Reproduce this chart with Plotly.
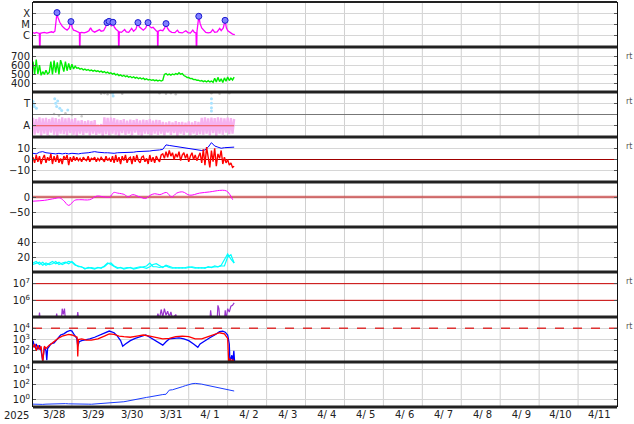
import numpy as np
import plotly.graph_objects as go
from plotly.subplots import make_subplots

# ---------------- data (time in hours from 2025-03-27 00:00) ----------------
day_labels = ["3/28", "3/29", "3/30", "3/31", "4/ 1", "4/ 2", "4/ 3", "4/ 4",
              "4/ 5", "4/ 6", "4/ 7", "4/ 8", "4/ 9", "4/10", "4/11"]

# X-ray flux (log10 W/m2)
xray_t = [0, 1, 2, 3, 3.9, 4.2, 4.5, 5.5, 7, 8.5, 10, 11.5, 12.5, 13.5, 14.8, 15.3, 16.5, 18, 19.5, 21,
          22.3, 23.4, 24.2, 25, 26, 27, 28, 28.6, 28.8, 29.1, 30, 31.5, 33, 34.5, 35.5, 36.5, 38, 39.5,
          41, 42, 43.5, 44.8, 45.6, 46.2, 46.9, 47.6, 48.4, 49.3, 50, 51, 52, 52.6, 52.9, 53.2, 54.5,
          56.5, 57.5, 59, 60.8, 62, 63.5, 64.7, 65.5, 66.5, 68, 69.5, 70.9, 71.8, 73, 74, 75, 76.2, 76.7,
          76.9, 77.2, 78.5, 80, 81.2, 82, 82.8, 84, 85.5, 87.5, 89, 90, 92, 94.2, 95.5, 97, 98.5, 99.5,
          100.5, 100.8, 101.1, 102.2, 103, 104, 105, 106.5, 108, 109.5, 110.8, 112, 113.5, 115.1, 116,
          117.3, 118.4, 119.2, 120.1, 121.5, 123, 124.4]
xray_log = [-5.72, -5.78, -5.70, -5.75, -5.80, -8, -5.78, -5.74, -5.70, -5.76, -5.72, -5.65, -5.72, -5.6,
            -3.94, -4.35, -4.8, -5.15, -5.35, -5.5, -5.3, -4.74, -5.3, -5.5, -5.55, -5.62, -5.7, -5.72,
            -8, -5.74, -5.7, -5.75, -5.68, -5.55, -5.3, -5.55, -5.68, -5.6, -5.45, -5.6, -5.55, -5.2,
            -4.83, -5.1, -4.72, -5.0, -5.15, -4.80, -5.2, -5.4, -5.55, -5.6, -8, -5.65, -5.7, -5.45,
            -5.65, -5.7, -5.35, -5.6, -5.4, -4.83, -5.2, -5.35, -5.5, -5.3, -4.83, -5.15, -5.3, -5.25,
            -5.45, -5.6, -5.62, -8, -5.6, -5.5, -5.55, -5.3, -4.92, -5.3, -5.55, -5.7, -5.72, -5.5, -5.7,
            -5.75, -5.55, -5.72, -5.76, -5.5, -5.7, -5.75, -8, -5.6, -4.27, -4.9, -5.3, -5.5, -5.7,
            -5.75, -5.7, -5.45, -5.7, -5.65, -5.35, -5.55, -5.3, -4.63, -5.3, -5.55, -5.72, -5.85, -5.9]
flare_t = [14.8, 23.4, 45.6, 46.9, 49.3, 64.7, 70.9, 82.0, 102.2, 118.4]
flare_log = [-3.94, -4.74, -4.83, -4.72, -4.80, -4.83, -4.83, -4.92, -4.27, -4.63]

# Solar wind speed (km/s), hourly
speed = [640, 500, 660, 505, 600, 490, 530, 500, 545, 505, 520, 640, 500, 650, 520, 630, 500, 655,
         600, 530, 640, 540, 620, 550, 610, 560, 590, 568, 572, 558, 565, 550, 558, 545, 553, 540,
         548, 536, 545, 533, 540, 528, 536, 522, 531, 516, 525, 510, 518, 502, 511, 495, 503, 487,
         495, 480, 490, 475, 484, 470, 478, 464, 474, 460, 469, 454, 464, 450, 459, 444, 453, 440,
         446, 436, 442, 432, 439, 430, 437, 428, 436, 500, 510, 494, 503, 492, 505, 496, 510, 500,
         518, 502, 510, 488, 480, 466, 466, 454, 455, 444, 446, 436, 438, 428, 434, 422, 430, 418,
         432, 418, 428, 414, 458, 418, 468, 422, 452, 412, 462, 426, 472, 434, 460, 440, 470]

# Geomagnetic activity band (A level = 1), hourly
activity = [1.7, 0.2, 1.6, 0.35, 1.75, 0.1, 1.65, 0.3, 1.7, 0.15, 1.6, 0.4, 1.72, 0.2, 1.68, 0.1,
            1.6, 0.3, 1.75, 0.25, 1.65, 0.15, 1.7, 0.35, 1.6, 0.2, 1.68, 0.1,
            1.45, 0.3, 1.5, 0.2, 1.4, 0.35, 1.48, 0.15, 1.42, 0.3, 1.5,
            0.2, 1.1, 0.3, 1.15,
            0.1, 1.75, 0.25, 1.7, 0.15, 1.72, 0.3, 1.68,
            0.2, 1.55, 0.1, 1.5, 0.35, 1.58, 0.2, 1.45, 0.3, 1.55, 0.15, 1.5, 0.4, 1.6, 0.2, 1.48,
            0.1, 1.55, 0.3, 1.5, 0.25, 1.58, 0.15, 1.45, 0.3, 1.52, 0.2, 1.5,
            0.3, 1.35, 0.15, 1.3, 0.4, 1.38, 0.2, 1.3, 0.35, 1.4, 0.1, 1.32, 0.3, 1.35, 0.2, 1.28,
            0.4, 1.38, 0.15, 1.3, 0.3, 1.4, 0.2, 1.35, 0.25,
            1.7, 0.2, 1.75, 0.3, 1.65, 0.15, 1.72, 0.35, 1.68, 0.1, 1.75, 0.3, 1.7, 0.2, 1.65, 0.4,
            1.72, 0.25, 1.68, 0.3, 1.6]
activity_ref = 1.0
tpts_t = [0, 0.4, 0.8, 2.1, 13.4, 14.0, 14.6, 15.2, 16.5, 17.7, 21.4, 49.1, 49.4, 110, 110, 110, 110]
tpts_v = [3.15, 2.9, 2.7, 2.55, 3.4, 3.0, 2.7, 3.2, 2.55, 2.35, 2.4, 3.9, 3.65, 3.4, 3.0, 2.6, 2.3]
gray_t = [10, 13, 16, 20, 24, 30, 42, 44, 46, 48, 55, 60, 78, 82, 85, 88, 100, 110, 115, 118, 121]
gray_v = [0.05, 2.05, 1.9, 2.1, 1.95, 1.85, 3.85, 3.9, 3.8, 3.92, 3.85, 0.05, 3.9, 3.85, 3.9, 3.8,
          0.05, 3.9, 3.85, 0.05, 3.9]

# IMF Bt (2-hourly) and Bz (hourly), nT
bt = [5.5, 5, 6.5, 7, 6, 5.5, 5.5, 5, 5.5, 5, 5.5, 5, 5.5, 5, 5, 5.5, 5.5, 6, 6.5, 7, 6.5, 6, 6, 6,
      5.5, 5.5, 6, 6, 6, 6.5, 6.5, 6.5, 7, 7, 7, 7.5, 7.5, 8, 8, 8.5, 9, 13, 12.5, 12, 11.5, 11,
      10.5, 10, 9.5, 9, 8.5, 8.5, 8, 8.5, 11, 15, 12, 11, 10, 10.5, 10.5, 10.5, 11]
bz = [2, -3, 4, -2, 3, -4, 1, 4, -3, 2, -1, 5, -4, 3, -2, 4, -3, 1, -4, 3, 0, 4, -5, 2, -2, 3, -1,
      2, -1, 1, -2, 2, 0, -1, 3, -2, 1, 0, 2, -2, 1, -1, 2, 0, -2, 3, -1, 1, -2,
      3, -3, 4, -2, 2, -4, 3, -1, 4, -3, 1, 2, -4, 3, -2, 4, -1, -3, 2, 3, -2, 1, -4, 4, -2, 2,
      -3, 3, 0, -2, 4,
      5, 1, 7, 2, 8, 3, 6, 0, 5, 2, 7, -1, 4, 6, 1, 5, -2, 3, 6, 0, 4, -1, 3,
      6, -3, 9, -5, 11, 2, -7, 8, -2, 10, -6, 5, 1, 8, -4,
      2, -3, 0, -5, -3, -7, -6]

# Dst index (nT)
dst_t = [0, 7.2, 13.4, 16.5, 18.9, 22, 25.7, 28.8, 35, 39.3, 44.2, 47.3, 49.8, 52.2, 56.5, 58.4,
         61.5, 65.8, 69.5, 72, 75, 78.2, 82.3, 85.5, 88.6, 92.3, 96.6, 102.7, 108.9, 115.1, 118.2,
         120.1, 123.1]
dst = [-14, -11, -5, -3, -12, -28, -11, -9, -9, 3, 0, 0, 15, 13, 8, 0, 8, 0, -5, 5, 11, 8, 15, 0,
       13, 17, 6, 13, 17, 22, 22, 17, -9]

# Proton density (2-hourly), two sources
dens1 = [12, 14, 10, 13, 9, 12, 14, 11, 13, 10, 12, 14, 13, 9, 8, 6, 5, 5, 6, 5, 5, 6, 7, 11, 12,
         8, 6, 5, 5, 6, 5, 5, 6, 7, 6, 5, 7, 10, 11, 8, 6, 9, 7, 6, 5, 6, 5, 6, 7, 6, 5, 6, 5, 6, 6,
         7, 6, 7, 8, 8, 20, 23, 12]
dens2 = [10, 11, 13, 9, 12, 10, 11, 14, 10, 12, 13, 11, 14, 10, 7, 7, 4, 6, 5, 4, 6, 5, 8, 12, 10,
         7, 5, 6, 4, 5, 6, 4, 5, 6, 7, 8, 12, 7, 7, 6, 7, 8, 6, 5, 6, 5, 6, 5, 6, 7, 6, 5, 6, 5, 7,
         6, 8, 7, 9, 16, 24, 17, 12]

# Proton flux (log10)
pflux_t = [0, 3.5, 4, 4.5, 14, 14.6, 15.2, 17.5, 18, 18.7, 19.4, 20, 27, 27.6, 28.2, 76, 77, 78, 79,
           80, 81, 82, 83, 84, 85, 86, 88, 89, 109, 109.5, 110.2, 113.5, 114, 114.6, 115.2, 118,
           118.5, 119, 120, 121, 122, 123, 124]
pflux_log = [4.8, 4.8, 5.26, 4.8, 4.8, 5.2, 4.8, 4.8, 5.5, 5.15, 5.5, 4.8, 4.8, 5.3, 4.8, 4.8, 5.2,
             4.9, 5.45, 5.0, 5.5, 5.1, 5.35, 5.0, 5.3, 4.9, 5.15, 4.8, 4.8, 5.4, 4.8, 4.8, 5.7, 5.5,
             4.8, 4.8, 5.4, 4.8, 5.5, 5.3, 5.65, 5.7, 5.85]

# Electron flux (log10), two satellites
e_blue_t = [0, 1, 2, 3, 4, 5, 6, 7, 8, 8.5, 9, 10, 11, 13, 15, 17, 19, 21, 23, 24, 25.5, 27, 27.6,
            28.5, 30, 32, 35, 38, 41, 44, 47, 50, 52, 54, 55.3, 57, 60, 63, 66, 69.5, 72, 75, 78, 80,
            82, 84, 87, 90, 93, 96, 99, 101.6, 103, 106, 109, 112, 115, 117, 118.5, 120, 121, 121.4,
            122.6, 123.2, 123.8, 124.3]
e_blue = [2.9, 2.3, 2.6, 2.1, 2.5, 2.0, 1.1, 2.3, 2.0, 1.15, 2.2, 2.4, 2.6, 2.7, 3.1, 3.4, 3.5, 3.7,
          3.8, 3.75, 3.4, 3.1, 2.4, 2.8, 2.9, 2.95, 3.05, 3.2, 3.4, 3.6, 3.75, 3.6, 3.3, 2.9, 2.4,
          2.6, 2.9, 3.1, 3.25, 3.4, 3.2, 2.95, 2.65, 2.5, 2.8, 3.05, 3.1, 3.15, 3.05, 2.9, 2.6, 2.3,
          2.6, 2.9, 3.15, 3.4, 3.7, 3.75, 3.65, 3.4, 2.6, 1.0, 1.6, 1.0, 2.0, 1.0]
e_red_t = [0, 1, 2, 3, 4, 5, 6, 7, 8, 10, 12, 14, 16, 18, 20, 22, 24, 26, 27.2, 27.6, 28, 30, 33, 36,
           40, 44, 47, 50, 53, 56, 60, 64, 68, 72, 76, 80, 84, 88, 92, 96, 100, 104, 108, 112, 115,
           118, 120, 120.6, 121.5, 122.3, 123.2, 124]
e_red = [2.3, 2.6, 2.0, 2.5, 2.1, 2.4, 1.0, 2.4, 2.2, 2.5, 2.7, 2.95, 3.15, 3.3, 3.4, 3.45, 3.4, 3.3,
         3.2, 1.5, 3.0, 3.05, 2.95, 2.95, 3.05, 3.3, 3.5, 3.45, 3.3, 3.25, 3.2, 3.3, 3.4, 3.3, 3.15,
         3.05, 3.1, 3.25, 3.3, 3.25, 3.05, 3.05, 3.25, 3.45, 3.6, 3.5, 3.1, 1.0, 1.3, 1.0, 1.2, 1.0]

# High-energy electron fluence (log10), 2-hourly
fluence_log = [-0.62, -0.66, -0.6, -0.65, -0.62, -0.6, -0.63, -0.58, -0.55, -0.52, -0.55, -0.58,
               -0.6, -0.62, -0.65, -0.64, -0.63, -0.62, -0.63, -0.6, -0.6, -0.58, -0.55, -0.52,
               -0.5, -0.48, -0.45, -0.38, -0.3, -0.22, -0.12, -0.05, 0.05, 0.12, 0.2, 0.28, 0.35,
               0.45, 0.55, 0.62, 0.66, 0.7, 1.25, 1.3, 1.4, 1.55, 1.7, 1.85, 2.0, 2.1, 2.15, 2.12,
               2.05, 1.95, 1.85, 1.75, 1.65, 1.55, 1.45, 1.35, 1.28, 1.2, 1.13]

# reference / alert levels
bz_zero = 0
dst_zero = 0
proton_levels = [1e6, 1e7]
electron_level = 1e4

# ---------------- figure ----------------
NROW = 9
fig = make_subplots(rows=NROW, cols=1, shared_xaxes=True, vertical_spacing=0)

def hours(n, step):
    return np.arange(n) * step

X_END = 360.0

# 1 X-ray
fig.add_trace(go.Scatter(x=xray_t, y=np.power(10.0, xray_log), mode="lines",
                         line=dict(color="#ff00ff", width=1.3)), row=1, col=1)
fig.add_trace(go.Scatter(x=flare_t, y=np.power(10.0, flare_log), mode="markers",
                         marker=dict(symbol="circle", size=6, color="#8080ff",
                                     line=dict(color="#1a1ad0", width=1)), cliponaxis=False), row=1, col=1)
# 2 speed
fig.add_trace(go.Scatter(x=hours(len(speed), 1), y=speed, mode="lines",
                         line=dict(color="#00ee00", width=1.4)), row=2, col=1)
# 3 activity
fig.add_trace(go.Scatter(x=gray_t, y=gray_v, mode="markers",
                         marker=dict(color="#c8c8c8", size=2.5)), row=3, col=1)
fig.add_trace(go.Scatter(x=hours(len(activity), 1), y=activity, mode="lines",
                         line=dict(color="#f6b2f0", width=2.3)), row=3, col=1)
fig.add_trace(go.Scatter(x=tpts_t, y=tpts_v, mode="markers",
                         marker=dict(color="#a8e2ff", size=3)), row=3, col=1)
fig.add_trace(go.Scatter(x=[0, len(activity) - 1], y=[activity_ref, activity_ref], mode="lines",
                         line=dict(color="#f05050", width=1)), row=3, col=1)
# 4 IMF
fig.add_trace(go.Scatter(x=[0, X_END], y=[bz_zero, bz_zero], mode="lines",
                         line=dict(color="#a00000", width=1)), row=4, col=1)
fig.add_trace(go.Scatter(x=hours(len(bt), 2), y=bt, mode="lines",
                         line=dict(color="#0000ff", width=1)), row=4, col=1)
fig.add_trace(go.Scatter(x=hours(len(bz), 1), y=bz, mode="lines",
                         line=dict(color="#ff0000", width=1.4)), row=4, col=1)
# 5 Dst
fig.add_trace(go.Scatter(x=[0, X_END], y=[dst_zero, dst_zero], mode="lines",
                         line=dict(color="rgba(200,70,70,0.75)", width=2.5)), row=5, col=1)
fig.add_trace(go.Scatter(x=dst_t, y=dst, mode="lines", line_shape="spline",
                         line=dict(color="#ff00ff", width=1)), row=5, col=1)
# 6 density
fig.add_trace(go.Scatter(x=hours(len(dens1), 2), y=dens1, mode="lines",
                         line=dict(color="#00ffff", width=1.2)), row=6, col=1)
fig.add_trace(go.Scatter(x=hours(len(dens2), 2), y=dens2, mode="lines",
                         line=dict(color="#00ffff", width=1.2)), row=6, col=1)
# 7 proton
for lv in proton_levels:
    fig.add_trace(go.Scatter(x=[0, X_END], y=[lv, lv], mode="lines",
                             line=dict(color="#cc0000", width=1)), row=7, col=1)
fig.add_trace(go.Scatter(x=pflux_t, y=np.power(10.0, pflux_log), mode="lines",
                         line=dict(color="#9933cc", width=1.2)), row=7, col=1)
# 8 electrons
fig.add_trace(go.Scatter(x=[0, X_END], y=[electron_level, electron_level], mode="lines",
                         line=dict(color="#dd3333", width=1.5, dash="dash")), row=8, col=1)
fig.add_trace(go.Scatter(x=e_blue_t, y=np.power(10.0, e_blue), mode="lines",
                         line=dict(color="#0000ff", width=1.3)), row=8, col=1)
fig.add_trace(go.Scatter(x=e_red_t, y=np.power(10.0, e_red), mode="lines",
                         line=dict(color="#ff0000", width=1.3)), row=8, col=1)
# 9 fluence
fig.add_trace(go.Scatter(x=hours(len(fluence_log), 2), y=np.power(10.0, fluence_log), mode="lines",
                         line=dict(color="#1a3cff", width=1)), row=9, col=1)

FONT = dict(family="DejaVu Sans", size=10, color="#222")
sup = lambda e: "10<sup>%d</sup>" % e

yspec = {
    1: dict(type="log", range=[-7, -3], tickvals=[1e-6, 1e-5, 1e-4], ticktext=["C", "M", "X"]),
    2: dict(range=[309, 798], tickvals=[400, 500, 600, 700]),
    3: dict(range=[0, 4], tickvals=[1, 2, 3], ticktext=["A", " ", "T"]),
    4: dict(range=[-20, 20], tickvals=[-10, 0, 10]),
    5: dict(range=[-100, 50], tickvals=[-50, 0]),
    6: dict(range=[0, 60], tickvals=[20, 40]),
    7: dict(type="log", range=[5, 7.7], tickvals=[1e6, 1e7], ticktext=[sup(6), sup(7)]),
    8: dict(type="log", range=[1, 5], tickvals=[1e2, 1e3, 1e4], ticktext=[sup(2), sup(3), sup(4)]),
    9: dict(type="log", range=[-1, 5], tickvals=[1, 1e2, 1e4], ticktext=[sup(0), sup(2), sup(4)]),
}
for r in range(1, NROW + 1):
    fig.update_yaxes(row=r, col=1, showgrid=True, gridcolor="#d6d6d6", gridwidth=1,
                     zeroline=False, showline=True, linecolor="#111", linewidth=1,
                     mirror="ticks", ticks="inside", ticklen=3, tickcolor="#555",
                     tickfont=FONT, fixedrange=True, **yspec[r])
    fig.update_xaxes(row=r, col=1, range=[0, X_END], showgrid=False, zeroline=False,
                     tickmode="array",
                     tickvals=[24 * (i + 1) - 10.9 for i in range(len(day_labels))],
                     ticktext=day_labels, ticks="", tickfont=FONT,
                     showticklabels=(r == NROW))

shapes = []
for d in range(1, 15):
    shapes.append(dict(type="line", xref="x", yref="paper", x0=24 * d, x1=24 * d, y0=0, y1=1,
                       line=dict(color="#d0d0d0", width=1), layer="below"))
for k in range(NROW + 1):
    shapes.append(dict(type="line", xref="paper", yref="paper", x0=0, x1=1, y0=k / NROW,
                       y1=k / NROW, line=dict(color="#222", width=2 if k == NROW else 3)))
shapes.append(dict(type="line", xref="paper", yref="y3", x0=0, x1=1, y0=2, y1=2,
                   line=dict(color="#777", width=1)))

annotations = [dict(text="2025", xref="paper", yref="paper", x=-0.029, y=-0.021,
                    xanchor="center", yanchor="middle", showarrow=False, font=FONT)]
for k in [1, 2, 3, 6, 7]:
    annotations.append(dict(text="rt", xref="paper", yref="paper", x=1.012,
                            y=1 - k / NROW - 9.5 / 405, xanchor="left", yanchor="middle",
                            showarrow=False, font=dict(family="DejaVu Sans", size=8, color="#555")))

fig.update_layout(width=634, height=424, margin=dict(l=33, r=17, t=2, b=17),
                  paper_bgcolor="white", plot_bgcolor="white", showlegend=False,
                  shapes=shapes, annotations=annotations, font=FONT)

fig.write_html("out.html", config={"displayModeBar": False},
               post_script="document.body.style.margin='0';document.body.style.overflow='hidden';")
